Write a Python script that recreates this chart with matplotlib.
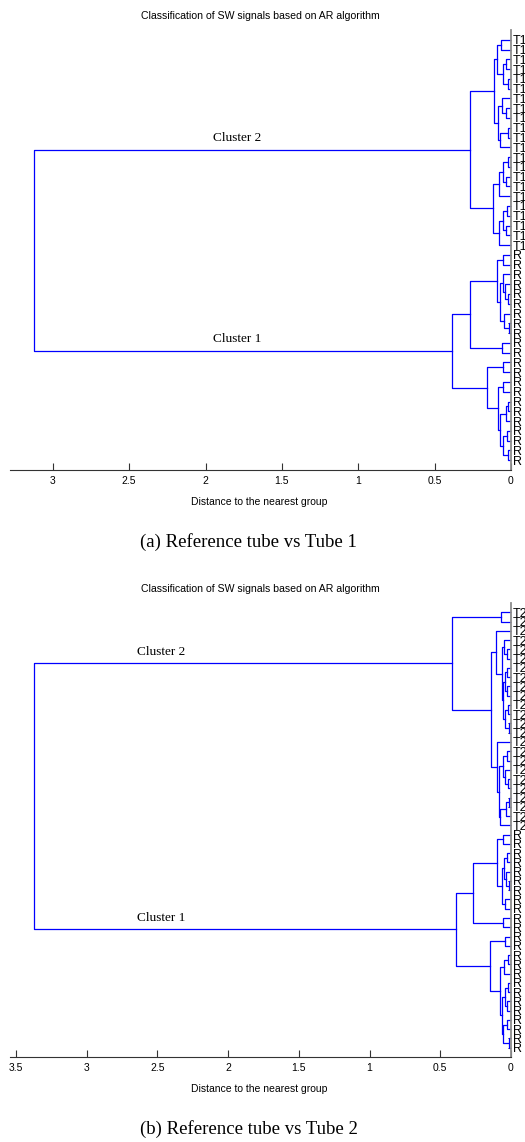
import matplotlib.pyplot as plt

plt.rcParams['font.family'] = ['Liberation Sans', 'DejaVu Sans']

# merge trees: [distance, upper child, lower child], leaves are leaf numbers (top to bottom)
# (a) Reference tube vs Tube 1
root_a = 3.12
cluster2_a = [0.268,
              [0.111,
               [0.09, [0.067, 0, 1], [0.055, [0.03, 2, 3], [0.02, 4, 5]]],
               [0.085, [0.06, 6, [0.035, 7, 8]], [0.07, [0.02, 9, 10], 11]]],
              [0.118,
               [0.08, [0.05, [0.02, 12, 13], [0.03, 14, 15]], 16],
               [0.08, [0.05, [0.025, 17, 18], [0.03, 19, 20]], 21]]]
cluster1_a = [0.386,
              [0.268,
               [0.092, [0.055, 22, 23],
                [0.072, [0.05, 24, [0.04, 25, [0.02, 26, 27]]], [0.045, 28, [0.015, 29, 30]]]],
               [0.061, 31, 32]],
              [0.157,
               [0.054, 33, 34],
               [0.085, [0.055, 35, 36],
                [0.07, [0.035, [0.02, 37, 38], 39], [0.05, [0.025, 40, 41], [0.02, 42, 43]]]]]]
labels_a = ["T1"] * 22 + ["R"] * 22

# (b) Reference tube vs Tube 2
root_b = 3.37
cluster2_b = [0.42,
              [0.073, 0, 1],
              [0.141,
               [0.106, 2,
                [0.066, [0.05, 3, [0.03, 4, 5]],
                 [0.06, [0.04, [0.03, 6, 7], [0.025, 8, 9]], [0.045, [0.02, 10, 11], [0.015, 12, 13]]]]],
               [0.099, 14,
                [0.085, [0.06, [0.03, 15, 16], [0.04, 17, [0.02, 18, 19]]],
                 [0.075, [0.035, [0.015, 20, 21], 22], 23]]]]]
cluster1_b = [0.389,
              [0.269,
               [0.097, [0.057, 24, 25],
                [0.066, [0.05, [0.025, 26, 27], [0.035, 28, [0.015, 29, 30]]], [0.04, 31, 32]]],
               [0.059, 33, 34]],
              [0.149,
               [0.042, 35, 36],
               [0.078, [0.05, [0.02, 37, 38], 39],
                [0.065, [0.045, [0.02, 40, 41], [0.03, 42, 43]], [0.055, [0.025, 44, 45], [0.015, 46, 47]]]]]]
labels_b = ["T2"] * 24 + ["R"] * 24

ticks_a = [0, 0.5, 1, 1.5, 2, 2.5, 3]
ticks_b = [0, 0.5, 1, 1.5, 2, 2.5, 3, 3.5]

title = "Classification of SW signals based on AR algorithm"
xlabel = "Distance to the nearest group"

W, H = 525, 1142
fig = plt.figure(figsize=(W / 100, H / 100), dpi=100)


def draw_tree(ax, node):
    if not isinstance(node, list):
        return node + 1, 0.0
    h, up, low = node
    y1, h1 = draw_tree(ax, up)
    y2, h2 = draw_tree(ax, low)
    ax.plot([h1, h, h, h2], [y1, y1, y2, y2], color="b", lw=0.9)
    return (y1 + y2) / 2, h


def panel(top, bottom, xmax, root, c2, c1, labels, ticks, caption, cap_y, lab_x):
    ax = fig.add_axes([10 / W, 1 - bottom / H, 501 / W, (bottom - top) / H])
    y2, h2 = draw_tree(ax, c2)
    y1, h1 = draw_tree(ax, c1)
    ax.plot([h2, root, root, h1], [y2, y2, y1, y1], color="b", lw=0.9)
    ax.text(lab_x, y2 - 0.6, "Cluster 2", family="Liberation Serif", fontsize=9.5,
            ha="center", va="bottom")
    ax.text(lab_x, y1 - 0.6, "Cluster 1", family="Liberation Serif", fontsize=9.5,
            ha="center", va="bottom")

    n = len(labels)
    ax.set_xlim(xmax, 0)
    ax.set_ylim(n + 1, 0)
    ax.spines["top"].set_visible(False)
    ax.spines["left"].set_visible(False)
    ax.spines["right"].set_color("0.55")
    ax.spines["right"].set_linewidth(1.3)
    ax.spines["bottom"].set_color("0.2")
    ax.spines["bottom"].set_linewidth(0.8)
    ax.yaxis.tick_right()
    ax.set_yticks(range(1, n + 1))
    ax.set_yticklabels(labels)
    ax.tick_params(axis="y", direction="in", length=2.5, width=0.6, pad=1.5, labelsize=9)
    ax.set_xticks(ticks)
    ax.set_xticklabels([f"{t:g}" for t in ticks])
    ax.tick_params(axis="x", direction="in", length=5, width=0.8, pad=4.5, labelsize=7.5,
                   color="0.2")

    fig.text(260 / W, 1 - (top - 14) / H, title, fontsize=7.6, ha="center", va="center")
    fig.text(259 / W, 1 - (bottom + 32) / H, xlabel, fontsize=7.5, ha="center", va="center")
    fig.text(248.5 / W, 1 - cap_y / H, caption, family="Liberation Serif", fontsize=13.5,
             ha="center", va="center")


panel(30, 470, 3.28, root_a, cluster2_a, cluster1_a, labels_a, ticks_a,
      "(a) Reference tube vs Tube 1", 542, 1.79)
panel(603, 1057, 3.543, root_b, cluster2_b, cluster1_b, labels_b, ticks_b,
      "(b) Reference tube vs Tube 2", 1129, 2.475)

fig.savefig("out.png", dpi=100)
